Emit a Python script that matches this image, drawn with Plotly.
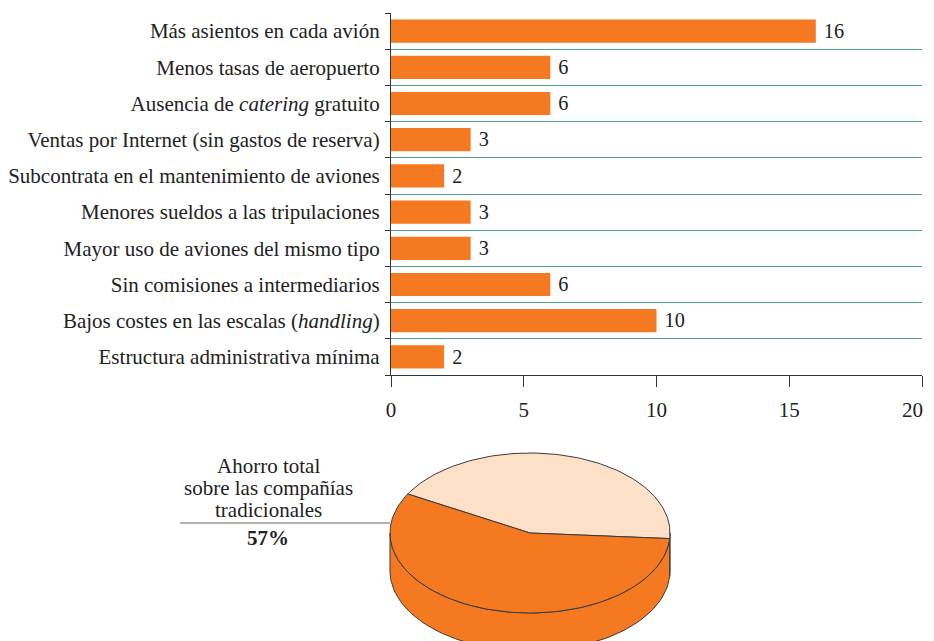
import numpy as np
import plotly.graph_objects as go

# ---------------- data ----------------
categories = [
    "Más asientos en cada avión",
    "Menos tasas de aeropuerto",
    "Ausencia de <i>catering</i> gratuito",
    "Ventas por Internet (sin gastos de reserva)",
    "Subcontrata en el mantenimiento de aviones",
    "Menores sueldos a las tripulaciones",
    "Mayor uso de aviones del mismo tipo",
    "Sin comisiones a intermediarios",
    "Bajos costes en las escalas (<i>handling</i>)",
    "Estructura administrativa mínima",
]
values = [16, 6, 6, 3, 2, 3, 3, 6, 10, 2]
x_ticks = [0, 5, 10, 15, 20]

pie_labels = ["Resto", "Ahorro total sobre las compañías tradicionales"]
pie_values = [43, 57]
pie_title_lines = ["Ahorro total", "sobre las compañías", "tradicionales"]
pie_value_text = "57%"

# ---------------- style ----------------
OFF = 8                      # page body margin
VIS_W, WIN_H = 926, 641      # visible page area
W, H = VIS_W - OFF, WIN_H - OFF
FONT = "Liberation Serif, Times New Roman, serif"
FS = 21
ORANGE = "#f47920"
PEACH = "#fde0c8"
TEAL = "#4f9c90"
OUTLINE = "#3a3a3a"

fig = go.Figure()

fig.add_trace(go.Bar(
    y=categories, x=values, orientation="h",
    marker=dict(color=ORANGE, line=dict(width=0)),
    width=0.64,
    text=["\u00a0" + str(v) for v in values], textposition="outside",
    textfont=dict(family=FONT, size=FS, color="#222"),
    cliponaxis=False,
    xaxis="x", yaxis="y", showlegend=False,
))

# ---------------- 3D pie (drawn on pixel-matched axes) ----------------
CX, CY, RX, RY, DEPTH = 530, 533, 140, 80, 38
START_DEG = -4.0  # first slice starts here, going counter-clockwise
colors = [PEACH, ORANGE]

total = float(sum(pie_values))
angles = [START_DEG]
for v in pie_values:
    angles.append(angles[-1] + 360.0 * v / total)

def pt(t_deg, dy=0.0):
    t = np.radians(t_deg)
    return CX + RX * np.cos(t), CY - RY * np.sin(t) + dy

# side walls (front half: 180..360 deg)
for i in range(len(pie_values)):
    a0, a1 = angles[i], angles[i + 1]
    for shift in (0, 360, -360):
        lo = max(a0 + shift, 180)
        hi = min(a1 + shift, 360)
        if hi > lo:
            ts = np.linspace(lo, hi, 80)
            xt, yt = pt(ts)
            xb, yb = pt(ts[::-1], DEPTH)
            xs = np.concatenate([xt, xb, xt[:1]])
            ys = np.concatenate([yt, yb, yt[:1]])
            fig.add_trace(go.Scatter(
                x=xs, y=ys, mode="lines", fill="toself",
                fillcolor=colors[i], line=dict(color=OUTLINE, width=1),
                xaxis="x2", yaxis="y2", showlegend=False, hoverinfo="skip"))

# top face slices
for i in range(len(pie_values)):
    ts = np.linspace(angles[i], angles[i + 1], 120)
    xa, ya = pt(ts)
    xs = np.concatenate([[CX], xa, [CX]])
    ys = np.concatenate([[CY], ya, [CY]])
    fig.add_trace(go.Scatter(
        x=xs, y=ys, mode="lines", fill="toself",
        fillcolor=colors[i], line=dict(color=OUTLINE, width=1),
        xaxis="x2", yaxis="y2", showlegend=False, hoverinfo="text",
        text=f"{pie_labels[i]}: {pie_values[i]}%"))

# ---------------- layout ----------------
def px(x):
    return (x - OFF) / W

def py(y):
    return 1 - (y - OFF) / H

tick_text = [str(t) for t in x_ticks[:-1]] + [""]   # last one drawn below

fig.update_layout(
    width=W, height=H,
    margin=dict(l=0, r=0, t=0, b=0),
    paper_bgcolor="white", plot_bgcolor="white",
    font=dict(family=FONT, size=FS, color="#222"),
    xaxis=dict(
        domain=[px(391), px(922)], anchor="y",
        range=[0, 20], tickvals=x_ticks, ticktext=tick_text,
        ticks="outside", ticklen=11, tickcolor="#333", tickwidth=1.3,
        showline=True, linecolor="#333", linewidth=1.3,
        showgrid=False, zeroline=False,
        ticklabelstandoff=5,
        tickfont=dict(family=FONT, size=FS, color="#222"),
        fixedrange=True, automargin=False,
    ),
    yaxis=dict(
        domain=[py(375), py(13)], anchor="x",
        type="category", categoryorder="array",
        categoryarray=categories[::-1],
        tickson="boundaries", ticks="outside", ticklen=5,
        tickcolor="#333", tickwidth=1.3,
        showline=True, linecolor="#333", linewidth=1.3,
        showgrid=True, gridcolor=TEAL, gridwidth=1.3,
        ticklabelstandoff=6,
        tickfont=dict(family=FONT, size=FS, color="#222"),
        fixedrange=True, automargin=False,
    ),
    xaxis2=dict(domain=[0, 1], anchor="y2", range=[OFF, OFF + W],
                visible=False, fixedrange=True),
    yaxis2=dict(domain=[0, py(440)], anchor="x2", range=[OFF + H, 440],
                visible=False, fixedrange=True),
)

# last x tick label, kept inside the visible page edge
fig.add_annotation(
    x=1, y=py(410), xref="paper", yref="paper",
    text=str(x_ticks[-1]), showarrow=False,
    font=dict(family=FONT, size=FS, color="#222"),
    xanchor="right", yanchor="middle", xshift=-1,
)

# pie annotation text and leader line
LINE_Y = [466, 488, 510]
for line_text, ly in zip(pie_title_lines, LINE_Y):
    fig.add_annotation(
        x=px(268), y=py(ly), xref="paper", yref="paper",
        text=line_text, showarrow=False, align="center",
        font=dict(family=FONT, size=FS, color="#222"),
        xanchor="center", yanchor="middle",
    )
fig.add_annotation(
    x=px(268), y=py(538), xref="paper", yref="paper",
    text=f"<b>{pie_value_text}</b>", showarrow=False,
    font=dict(family=FONT, size=FS, color="#222"),
    xanchor="center", yanchor="middle",
)
fig.add_shape(
    type="line", xref="paper", yref="paper",
    x0=px(180), x1=px(390), y0=py(523), y1=py(523),
    line=dict(color="#666", width=1.2),
)

fig.write_html("out.html")
